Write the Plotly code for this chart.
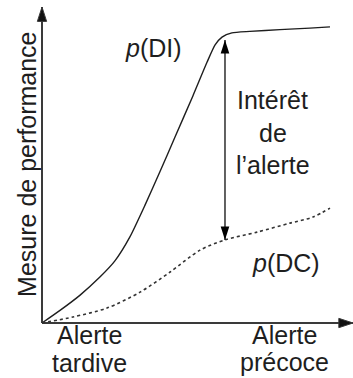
import plotly.graph_objects as go

# Earliness of the alert (0 = late, 1 = early) vs. performance measure
x_di = [0.0, 0.06, 0.127, 0.193, 0.243, 0.293, 0.343, 0.393, 0.443, 0.503, 0.55, 0.577, 0.6, 0.633, 0.693, 0.793, 0.893, 0.96]
y_di = [0.0, 0.042, 0.093, 0.153, 0.207, 0.287, 0.392, 0.504, 0.619, 0.757, 0.869, 0.927, 0.953, 0.967, 0.972, 0.978, 0.983, 0.987]

x_dc = [0.0, 0.103, 0.217, 0.327, 0.427, 0.527, 0.61, 0.717, 0.827, 0.903, 0.96]
y_dc = [0.0, 0.02, 0.05, 0.103, 0.17, 0.243, 0.277, 0.303, 0.333, 0.353, 0.383]

# Gain of the alert: vertical double arrow between the two curves
gain_x = 0.61
gain_top = 0.943
gain_bottom = 0.277

# Axis extents (arrow tips)
y_axis_top = 1.053
x_axis_end = 1.037

label_di = "<i>p</i>(DI)"
label_dc = "<i>p</i>(DC)"
label_gain = ["Intérêt", "de", "l’alerte"]
label_late = ["Alerte", "tardive"]
label_early = ["Alerte", "précoce"]
label_y = "Mesure de performance"

FONT = "Liberation Sans, Arial, sans-serif"
INK = "#1e1e1e"

fig = go.Figure()

# axes drawn as arrows
fig.add_trace(go.Scatter(
    x=[0, 0], y=[0, y_axis_top], mode="lines+markers",
    line=dict(color="#3a3a3a", width=2),
    marker=dict(symbol="arrow", size=[0, 15], angle=[0, 0], color="#111", opacity=[0, 1]),
    hoverinfo="skip"))
fig.add_trace(go.Scatter(
    x=[0, x_axis_end], y=[0, 0], mode="lines+markers",
    line=dict(color="#3a3a3a", width=2),
    marker=dict(symbol="arrow", size=[0, 15], angle=[90, 90], color="#111", opacity=[0, 1]),
    hoverinfo="skip"))

# p(DI) curve
fig.add_trace(go.Scatter(
    x=x_di, y=y_di, mode="lines",
    line=dict(color=INK, width=1.4, shape="spline", smoothing=0.6),
    hoverinfo="skip"))

# p(DC) curve
fig.add_trace(go.Scatter(
    x=x_dc, y=y_dc, mode="lines",
    line=dict(color="#333", width=1.6, dash="dot", shape="spline", smoothing=0.8),
    hoverinfo="skip"))

# double arrow
fig.add_trace(go.Scatter(
    x=[gain_x, gain_x], y=[gain_top, gain_bottom], mode="lines+markers",
    line=dict(color=INK, width=1.4),
    marker=dict(symbol="arrow", size=14, angle=[0, 180], color="#000"),
    hoverinfo="skip"))

ann = dict(showarrow=False, font=dict(family=FONT, size=25, color=INK),
           xref="x", yref="y")
fig.add_annotation(x=0.37, y=0.917, text=label_di, **ann)
fig.add_annotation(x=0.813, y=0.2, text=label_dc, **ann)
for text, yy in zip(label_gain, [0.743, 0.633, 0.528]):
    fig.add_annotation(x=0.77, y=yy, text=text, **ann)
for text, yy in zip(label_late, [-0.04, -0.133]):
    fig.add_annotation(x=0.157, y=yy, text=text, **ann)
for text, yy in zip(label_early, [-0.04, -0.13]):
    fig.add_annotation(x=0.807, y=yy, text=text, **ann)
fig.add_annotation(x=-0.05, y=0.527, text=label_y, textangle=-90, **ann)

fig.update_layout(
    width=353, height=378,
    margin=dict(l=0, r=0, t=0, b=0),
    paper_bgcolor="white", plot_bgcolor="white",
    showlegend=False,
    xaxis=dict(range=[-0.14, 1.0367], visible=False, fixedrange=True),
    yaxis=dict(range=[-0.1833, 1.0767], visible=False, fixedrange=True),
)

fig.write_html("out.html", config={"displayModeBar": False})
